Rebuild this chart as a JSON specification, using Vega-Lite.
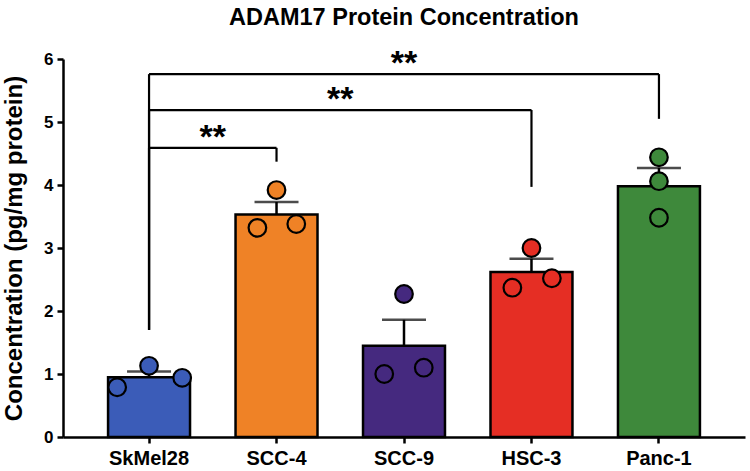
{
  "$schema": "https://vega.github.io/schema/vega-lite/v6.json",
  "width": 682,
  "height": 378,
  "autosize": {"type": "none"},
  "padding": {"left": 63, "top": 59, "right": 5, "bottom": 34},
  "background": "white",
  "config": {
    "view": {"stroke": null},
    "font": "Liberation Sans"
  },
  "title": {
    "text": "ADAM17 Protein Concentration",
    "font": "Liberation Sans",
    "fontSize": 23.5,
    "fontWeight": "bold",
    "color": "black",
    "anchor": "middle",
    "offset": 18
  },
  "resolve": {"scale": {"xOffset": "independent"}},
  "datasets": {
    "summary": [
      {"group": "SkMel28", "mean": 0.95, "upper": 1.04},
      {"group": "SCC-4", "mean": 3.53, "upper": 3.73},
      {"group": "SCC-9", "mean": 1.45, "upper": 1.86},
      {"group": "HSC-3", "mean": 2.62, "upper": 2.83},
      {"group": "Panc-1", "mean": 3.98, "upper": 4.27}
    ],
    "points": [
      {"group": "SkMel28", "value": 0.79, "jitter": -0.5},
      {"group": "SkMel28", "value": 1.13, "jitter": 0},
      {"group": "SkMel28", "value": 0.94, "jitter": 0.52},
      {"group": "SCC-4", "value": 3.92, "jitter": 0},
      {"group": "SCC-4", "value": 3.32, "jitter": -0.3},
      {"group": "SCC-4", "value": 3.38, "jitter": 0.31},
      {"group": "SCC-9", "value": 2.27, "jitter": 0},
      {"group": "SCC-9", "value": 1.0, "jitter": -0.31},
      {"group": "SCC-9", "value": 1.1, "jitter": 0.31},
      {"group": "HSC-3", "value": 3.0, "jitter": 0},
      {"group": "HSC-3", "value": 2.37, "jitter": -0.3},
      {"group": "HSC-3", "value": 2.52, "jitter": 0.32},
      {"group": "Panc-1", "value": 4.44, "jitter": 0},
      {"group": "Panc-1", "value": 4.06, "jitter": 0},
      {"group": "Panc-1", "value": 3.48, "jitter": 0}
    ],
    "brackets": [
      {"from": "SkMel28", "to": "SCC-4", "y": 4.59, "left_end": 1.7, "right_end": 4.37, "label": "**", "star_x": "SkMel28", "star_band": "edge"},
      {"from": "SkMel28", "to": "HSC-3", "y": 5.19, "left_end": 1.7, "right_end": 3.97, "label": "**", "star_x": "SCC-4", "star_band": "edge"},
      {"from": "SkMel28", "to": "Panc-1", "y": 5.76, "left_end": 1.7, "right_end": 5.05, "label": "**", "star_x": "SCC-9", "star_band": "center"}
    ]
  },
  "encoding": {
    "x": {
      "field": "group",
      "type": "nominal",
      "sort": ["SkMel28", "SCC-4", "SCC-9", "HSC-3", "Panc-1"],
      "scale": {"domain": ["SkMel28", "SCC-4", "SCC-9", "HSC-3", "Panc-1"], "paddingInner": 0, "paddingOuter": 0.175},
      "axis": {
        "title": null,
        "labelAngle": 0,
        "labelFont": "Liberation Sans",
        "labelFontSize": 20,
        "labelFontWeight": "bold",
        "labelColor": "black",
        "labelPadding": 5,
        "domainColor": "black",
        "domainWidth": 2.5,
        "tickColor": "black",
        "tickWidth": 2.5,
        "tickSize": 6
      }
    }
  },
  "layer": [
    {
      "data": {"name": "summary"},
      "mark": {"type": "bar", "width": {"band": 0.643}, "stroke": "black", "strokeWidth": 2.5},
      "encoding": {
        "y": {
          "field": "mean",
          "type": "quantitative",
          "scale": {"domain": [0, 6], "nice": false},
          "axis": {
            "title": "Concentration (pg/mg protein)",
            "titleFont": "Liberation Sans",
            "titleFontSize": 24,
            "titleFontWeight": "bold",
            "titleColor": "black",
            "titlePadding": 17,
            "values": [0, 1, 2, 3, 4, 5, 6],
            "format": "d",
            "grid": false,
            "labelFont": "Liberation Sans",
            "labelFontSize": 17,
            "labelFontWeight": "bold",
            "labelColor": "black",
            "labelPadding": 4,
            "domainColor": "black",
            "domainWidth": 2.5,
            "tickColor": "black",
            "tickWidth": 2.5,
            "tickSize": 6
          }
        },
        "color": {
          "field": "group",
          "type": "nominal",
          "scale": {
            "domain": ["SkMel28", "SCC-4", "SCC-9", "HSC-3", "Panc-1"],
            "range": ["#3b5cb8", "#ef8226", "#45297f", "#e52e24", "#3e893b"]
          },
          "legend": null
        }
      }
    },
    {
      "data": {"name": "summary"},
      "mark": {"type": "rule", "color": "black", "strokeWidth": 2.5},
      "encoding": {
        "y": {"field": "mean", "type": "quantitative"},
        "y2": {"field": "upper"}
      }
    },
    {
      "data": {"name": "summary"},
      "mark": {"type": "tick", "color": "black", "thickness": 2.5, "size": 44, "orient": "horizontal"},
      "encoding": {
        "y": {"field": "upper", "type": "quantitative"}
      }
    },
    {
      "data": {"name": "points"},
      "mark": {"type": "circle", "size": 310, "opacity": 1, "stroke": "black", "strokeWidth": 2.2},
      "encoding": {
        "xOffset": {"field": "jitter", "type": "quantitative", "scale": {"domain": [-1, 1]}},
        "y": {"field": "value", "type": "quantitative"},
        "color": {"field": "group", "type": "nominal", "legend": null}
      }
    },
    {
      "data": {"name": "brackets"},
      "mark": {"type": "rule", "color": "black", "strokeWidth": 2.2},
      "encoding": {
        "x": {"field": "from", "type": "nominal"},
        "y": {"field": "left_end", "type": "quantitative"},
        "y2": {"field": "y"}
      }
    },
    {
      "data": {"name": "brackets"},
      "mark": {"type": "rule", "color": "black", "strokeWidth": 2.2},
      "encoding": {
        "x": {"field": "from", "type": "nominal"},
        "x2": {"field": "to"},
        "y": {"field": "y", "type": "quantitative"}
      }
    },
    {
      "data": {"name": "brackets"},
      "mark": {"type": "rule", "color": "black", "strokeWidth": 2.2},
      "encoding": {
        "x": {"field": "to", "type": "nominal"},
        "y": {"field": "y", "type": "quantitative"},
        "y2": {"field": "right_end"}
      }
    },
    {
      "data": {"name": "brackets"},
      "transform": [{"filter": "datum.star_band == 'edge'"}],
      "mark": {"type": "text", "fontSize": 34, "fontWeight": "bold", "baseline": "alphabetic", "align": "center", "color": "black", "font": "Liberation Sans"},
      "encoding": {
        "x": {"field": "star_x", "type": "nominal", "bandPosition": 1},
        "y": {"field": "y", "type": "quantitative"},
        "text": {"field": "label"}
      }
    },
    {
      "data": {"name": "brackets"},
      "transform": [{"filter": "datum.star_band == 'center'"}],
      "mark": {"type": "text", "fontSize": 34, "fontWeight": "bold", "baseline": "alphabetic", "align": "center", "color": "black", "font": "Liberation Sans"},
      "encoding": {
        "x": {"field": "star_x", "type": "nominal", "bandPosition": 0.5},
        "y": {"field": "y", "type": "quantitative"},
        "text": {"field": "label"}
      }
    }
  ]
}
